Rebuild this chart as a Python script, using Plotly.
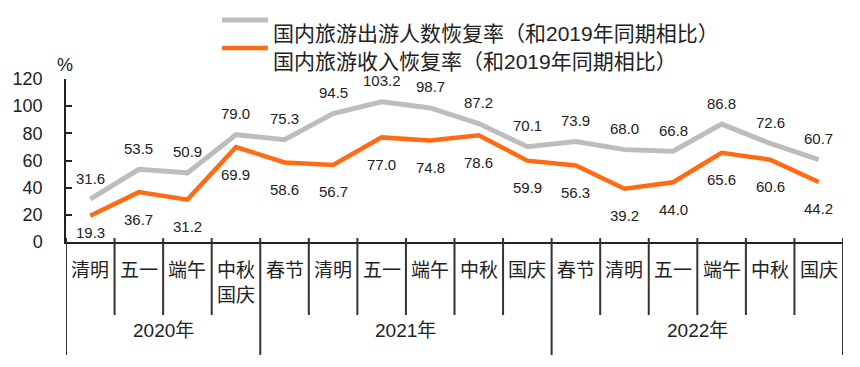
import plotly.graph_objects as go

# ---- data ----
years = ["2020年", "2021年", "2022年"]
year_counts = [4, 6, 6]
holidays = ["清明", "五一", "端午", "中秋<br>国庆",
            "春节", "清明", "五一", "端午", "中秋", "国庆",
            "春节", "清明", "五一", "端午", "中秋", "国庆"]
trips_recovery = [31.6, 53.5, 50.9, 79.0, 75.3, 94.5, 103.2, 98.7, 87.2, 70.1,
                  73.9, 68.0, 66.8, 86.8, 72.6, 60.7]
revenue_recovery = [19.3, 36.7, 31.2, 69.9, 58.6, 56.7, 77.0, 74.8, 78.6, 59.9,
                    56.3, 39.2, 44.0, 65.6, 60.6, 44.2]
name_trips = "国内旅游出游人数恢复率（和2019年同期相比）"
name_revenue = "国内旅游收入恢复率（和2019年同期相比）"
y_ticks = [0, 20, 40, 60, 80, 100, 120]

# ---- styles ----
GRAY = "#bdbdbd"
ORANGE = "#ff6a13"
TXT = "#222222"
FONT = "Liberation Sans, Arial, Noto Sans CJK SC, sans-serif"
revenue_label_shift = [-17] + [-27] * 15
trips_label_shift = [21] * 16

W, H = 860, 367
L, R, T, B = 66, 17, 79, 125
PW, PH = W - L - R, H - T - B

def px_x(p):
    return (p - L) / PW

def px_y(p):
    return (H - B - p) / PH

xs = list(range(len(holidays)))

fig = go.Figure()
fig.add_trace(go.Scatter(x=xs, y=trips_recovery, mode="lines", name=name_trips,
                         line=dict(color=GRAY, width=5), showlegend=False,
                         cliponaxis=False))
fig.add_trace(go.Scatter(x=xs, y=revenue_recovery, mode="lines", name=name_revenue,
                         line=dict(color=ORANGE, width=4.5), showlegend=False,
                         cliponaxis=False))

ann = []
shapes = []
for i, v in enumerate(trips_recovery):
    ann.append(dict(x=xs[i], y=v, xref="x", yref="y", text=f"{v:.1f}",
                    showarrow=False, yshift=trips_label_shift[i],
                    font=dict(size=15, color=TXT, family=FONT)))
for i, v in enumerate(revenue_recovery):
    ann.append(dict(x=xs[i], y=v, xref="x", yref="y", text=f"{v:.1f}",
                    showarrow=False, yshift=revenue_label_shift[i],
                    font=dict(size=15, color=TXT, family=FONT)))

# category labels
for i, lab in enumerate(holidays):
    ann.append(dict(x=xs[i], y=px_y(258), xref="x", yref="paper", text=lab,
                    showarrow=False, yanchor="top", align="center",
                    font=dict(size=19, color=TXT, family=FONT)))

# year dividers and labels
bounds = [0]
for c in year_counts:
    bounds.append(bounds[-1] + c)
year_bounds = set(bounds)
for b in range(len(holidays) + 1):
    y1 = px_y(355) if b in year_bounds else px_y(315)
    shapes.append(dict(type="line", xref="x", yref="paper", x0=b - 0.5, x1=b - 0.5,
                       y0=px_y(238), y1=y1, line=dict(color="#333333", width=2)))
for k, yr in enumerate(years):
    cx = (bounds[k] + bounds[k + 1]) / 2 - 0.5
    ann.append(dict(x=cx, y=px_y(343), xref="x", yref="paper", text=yr,
                    showarrow=False, font=dict(size=19, color=TXT, family=FONT)))

# percent sign
ann.append(dict(x=px_x(55), y=px_y(53), xref="paper", yref="paper", text="%",
                showarrow=False, font=dict(size=18, color=TXT, family=FONT)))

# legend (manual)
for (nm, col, wd, py) in [(name_trips, GRAY, 5, 20), (name_revenue, ORANGE, 4.5, 48)]:
    shapes.append(dict(type="line", xref="paper", yref="paper",
                       x0=px_x(222), x1=px_x(268), y0=px_y(py), y1=px_y(py),
                       line=dict(color=col, width=wd)))
    ann.append(dict(x=px_x(271), y=px_y(py), xref="paper", yref="paper", text=nm,
                    showarrow=False, xanchor="left",
                    font=dict(size=21, color=TXT, family=FONT)))

fig.update_layout(
    width=W, height=H,
    margin=dict(l=L, r=R, t=T, b=B, autoexpand=False),
    paper_bgcolor="white", plot_bgcolor="white",
    annotations=ann, shapes=shapes,
    showlegend=False,
)
fig.update_xaxes(range=[-0.5, len(holidays) - 0.5], showgrid=False, zeroline=False,
                 showticklabels=False, ticks="", showline=True, linecolor="#222222",
                 linewidth=2, automargin=False)
fig.update_yaxes(range=[0, 120], tickvals=y_ticks, showgrid=False, zeroline=False,
                 showline=True, linecolor="#222222", linewidth=1.5,
                 ticks="inside", ticklen=6, tickcolor="#222222", tickwidth=1.5,
                 ticklabelstandoff=18, automargin=False,
                 tickfont=dict(size=18, color=TXT, family=FONT))

fig.write_html("out.html", config={"displayModeBar": False},
               post_script="document.body.style.margin='0';document.body.style.overflow='hidden';")
